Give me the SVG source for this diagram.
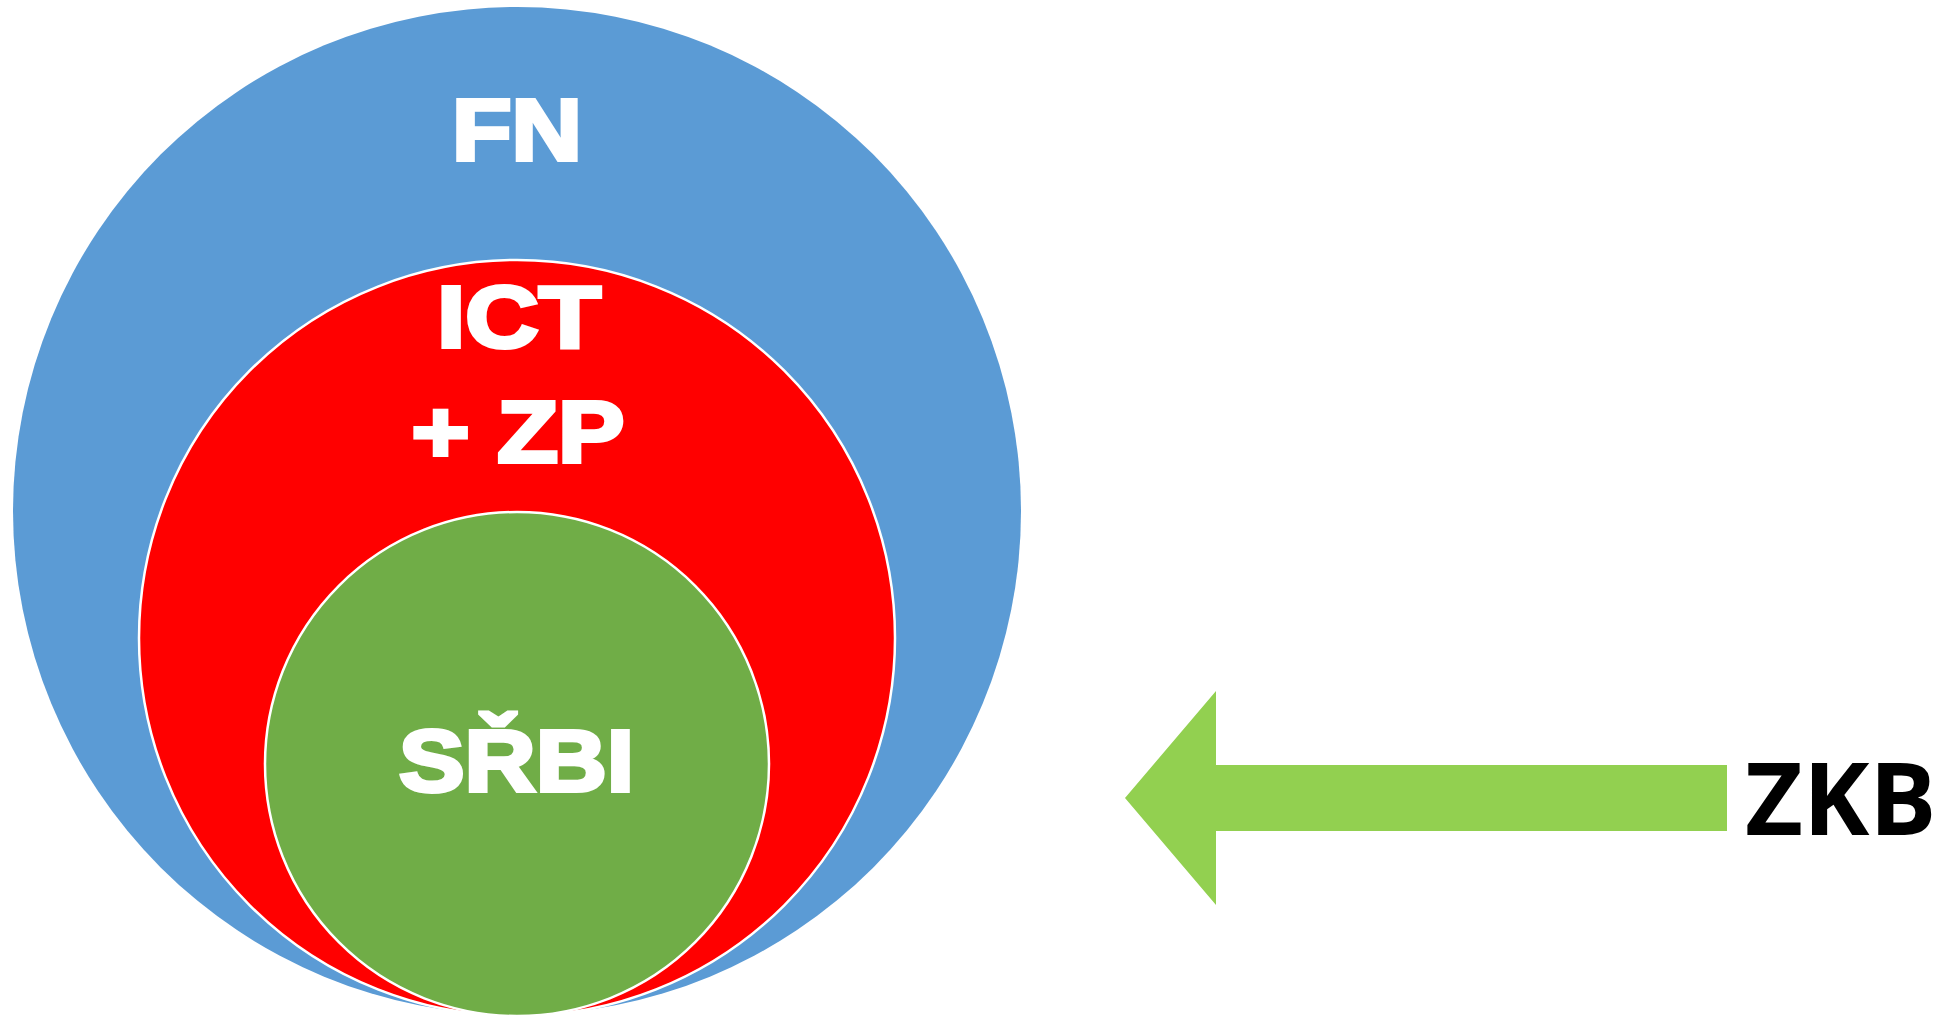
<svg xmlns="http://www.w3.org/2000/svg" width="1941" height="1016" viewBox="0 0 1941 1016">
<style>
.lbl{font-family:"Liberation Sans",Arial,sans-serif;font-weight:bold;font-size:87px;fill:#FFFFFF;stroke:#FFFFFF;stroke-width:4px;stroke-linejoin:miter;text-anchor:middle}
.zkb{font-family:"Open Sans","Noto Sans",sans-serif;font-weight:bold;font-size:100px;fill:#000000}
</style>
<rect width="1941" height="1016" fill="#FFFFFF"/>
<g id="fn">
<circle cx="517" cy="511" r="504" fill="#5B9BD5"/>
<text class="lbl" x="517" y="160" textLength="130" lengthAdjust="spacingAndGlyphs">FN</text>
</g>
<g id="ict">
<circle cx="517" cy="638" r="378" fill="#FF0000" stroke="#FFFFFF" stroke-width="2.5"/>
<text class="lbl" x="519" y="347" textLength="164" lengthAdjust="spacingAndGlyphs">ICT</text>
<text class="lbl" x="518" y="462" textLength="213" lengthAdjust="spacingAndGlyphs">+ ZP</text>
</g>
<g id="srbi">
<circle cx="517" cy="764" r="252" fill="#70AD47" stroke="#FFFFFF" stroke-width="2.5"/>
<text class="lbl" x="516.5" y="791" textLength="235" lengthAdjust="spacingAndGlyphs">SŘBI</text>
</g>
<g id="connectors">
<polygon points="1125,798 1216,691 1216,765 1727,765 1727,831 1216,831 1216,905" fill="#92D050"/>
</g>
<g id="zkb">
<text class="zkb" x="1745" y="835">ZKB</text>
</g>
</svg>
